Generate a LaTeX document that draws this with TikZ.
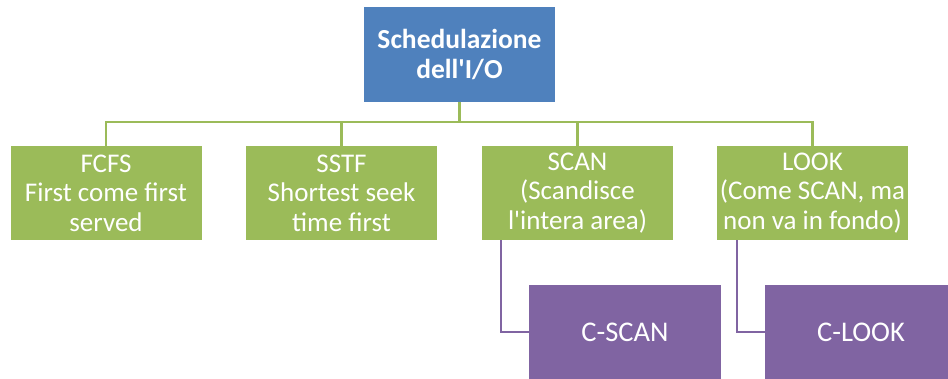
\documentclass[tikz,border=0pt]{standalone}
\usepackage{fontspec}
\setmainfont{Carlito}[Ligatures=TeXOff]
\definecolor{hdrblue}{HTML}{4F81BD}
\definecolor{leafgreen}{HTML}{9BBB59}
\definecolor{subpurple}{HTML}{8064A2}
\begin{document}
\begin{tikzpicture}[x=1pt,y=-1pt,
  box/.style={rectangle,inner sep=0pt,text=white,align=center,
              minimum width=191pt,minimum height=94pt},
  rootbox/.style={box,fill=hdrblue,minimum height=95pt,
              font=\fontsize{27.5}{30}\selectfont\bfseries},
  leafbox/.style={box,fill=leafgreen,font=\fontsize{27}{29.5}\selectfont},
  subbox/.style={box,fill=subpurple,minimum width=192pt,
              font=\fontsize{28.5}{30}\selectfont},
  gline/.style={draw=leafgreen,line width=2.4pt},
  pline/.style={draw=subpurple,line width=2.2pt}]
\useasboundingbox (0,0) rectangle (948,379);

% root of the tree
\node[rootbox] (root) at (459.5,54.5) {Schedulazione\\dell'I/O};

% scheduling algorithms
\node[leafbox] (fcfs) at (106,193)   {FCFS\\First come first\\served};
\node[leafbox] (sstf) at (341.5,193) {SSTF\\Shortest seek\\time first};
\node[leafbox] (scan) at (577.5,193) {SCAN\\(Scandisce\\l'intera area)};
\node[leafbox] (look) at (812.5,193) {LOOK\\(Come SCAN, ma\\non va in fondo)};

% circular variants
\node[subbox] (cscan) at (625,332) {C-SCAN};
\node[subbox] (clook) at (861,332) {C-LOOK};

% green bus connecting the root to the algorithms
\coordinate (bus) at (0,122);
\draw[gline] (root.south) -- (root.south |- bus);
\draw[gline] (fcfs.north) -- (fcfs.north |- bus) -- (look.north |- bus) -- (look.north);
\draw[gline] (sstf.north) -- (sstf.north |- bus);
\draw[gline] (scan.north) -- (scan.north |- bus);

% purple elbows to the circular variants
\draw[pline] ([xshift=19pt]scan.south west) |- (cscan.west);
\draw[pline] ([xshift=20pt]look.south west) |- (clook.west);
\end{tikzpicture}
\end{document}
